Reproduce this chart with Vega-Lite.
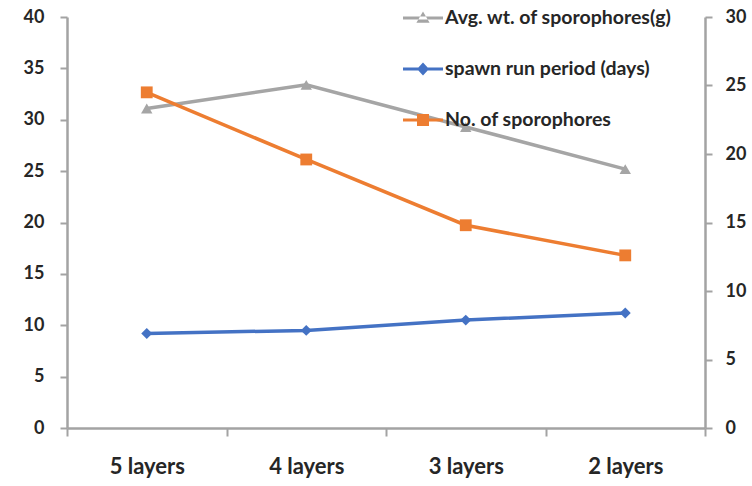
{
  "$schema": "https://vega.github.io/schema/vega-lite/v6.json",
  "width": 638,
  "height": 411,
  "autosize": {"type": "none"},
  "padding": {"left": 67, "top": 17, "right": 47, "bottom": 58},
  "background": "white",
  "config": {
    "view": {"stroke": null},
    "font": "Lato",
    "axis": {
      "grid": false,
      "domainColor": "#A3A3A3",
      "domainWidth": 2.5,
      "tickColor": "#A3A3A3",
      "tickWidth": 2,
      "labelFont": "Lato",
      "labelFontWeight": "bold",
      "labelColor": "#262626",
      "title": null
    }
  },
  "data": {
    "values": [
      {"layers": "5 layers", "series": "Avg. wt. of sporophores(g)", "value": 31.1, "axis": "left"},
      {"layers": "4 layers", "series": "Avg. wt. of sporophores(g)", "value": 33.4, "axis": "left"},
      {"layers": "3 layers", "series": "Avg. wt. of sporophores(g)", "value": 29.3, "axis": "left"},
      {"layers": "2 layers", "series": "Avg. wt. of sporophores(g)", "value": 25.2, "axis": "left"},
      {"layers": "5 layers", "series": "spawn  run period (days)", "value": 9.2, "axis": "left"},
      {"layers": "4 layers", "series": "spawn  run period (days)", "value": 9.5, "axis": "left"},
      {"layers": "3 layers", "series": "spawn  run period (days)", "value": 10.5, "axis": "left"},
      {"layers": "2 layers", "series": "spawn  run period (days)", "value": 11.2, "axis": "left"},
      {"layers": "5 layers", "series": "No. of sporophores", "value": 24.5, "axis": "right"},
      {"layers": "4 layers", "series": "No. of sporophores", "value": 19.6, "axis": "right"},
      {"layers": "3 layers", "series": "No. of sporophores", "value": 14.8, "axis": "right"},
      {"layers": "2 layers", "series": "No. of sporophores", "value": 12.6, "axis": "right"}
    ]
  },
  "encoding": {
    "x": {
      "field": "layers",
      "type": "nominal",
      "sort": ["5 layers", "4 layers", "3 layers", "2 layers"],
      "scale": {"type": "band", "paddingInner": 0, "paddingOuter": 0},
      "axis": {
        "labelAngle": 0,
        "tickBand": "extent",
        "tickSize": 8,
        "labelFontSize": 22,
        "labelPadding": 20
      }
    },
    "color": {
      "field": "series",
      "type": "nominal",
      "scale": {
        "domain": ["Avg. wt. of sporophores(g)", "spawn  run period (days)", "No. of sporophores"],
        "range": ["#A5A5A5", "#4472C4", "#ED7D31"]
      },
      "legend": {
        "orient": "none",
        "legendX": 336,
        "legendY": -19,
        "title": null,
        "direction": "vertical",
        "padding": 0,
        "symbolSize": 1600,
        "symbolStrokeWidth": 0,
        "rowPadding": 21,
        "labelOffset": 2,
        "labelFont": "Lato",
        "labelFontSize": 19.5,
        "labelFontWeight": "bold",
        "labelColor": "#262626",
        "labelLimit": 400,
        "encode": {
          "symbols": {
            "update": {
              "shape": {"signal": "datum.value === 'Avg. wt. of sporophores(g)' ? 'M-1,-0.08L1,-0.08L1,0.08L-1,0.08Z M-0.33,0.24L0.33,0.24L0,-0.33Z' : datum.value === 'No. of sporophores' ? 'M-1,-0.08L1,-0.08L1,0.08L-1,0.08Z M-0.3,-0.3L0.3,-0.3L0.3,0.3L-0.3,0.3Z' : 'M-1,-0.08L1,-0.08L1,0.08L-1,0.08Z M0,-0.32L0.3,0L0,0.32L-0.3,0Z'"},
              "fill": {"signal": "scale('color', datum.value)"},
              "stroke": {"value": "transparent"},
              "strokeWidth": {"value": 0},
              "opacity": {"value": 1}
            }
          }
        }
      }
    }
  },
  "layer": [
    {
      "transform": [{"filter": "datum.axis === 'left'"}],
      "encoding": {
        "y": {
          "field": "value",
          "type": "quantitative",
          "scale": {"domain": [0, 40], "nice": false},
          "axis": {
            "orient": "left",
            "values": [0, 5, 10, 15, 20, 25, 30, 35, 40],
            "tickSize": 7,
            "labelPadding": 16,
            "labelFontSize": 18
          }
        }
      },
      "layer": [
        {"mark": {"type": "line", "strokeWidth": 3.5}},
        {
          "transform": [{"filter": "datum.series === 'Avg. wt. of sporophores(g)'"}],
          "mark": {"type": "point", "shape": "triangle-up", "filled": true, "opacity": 1, "size": 130}
        },
        {
          "transform": [{"filter": "datum.series === 'spawn  run period (days)'"}],
          "mark": {"type": "point", "shape": "diamond", "filled": true, "opacity": 1, "size": 120}
        }
      ]
    },
    {
      "transform": [{"filter": "datum.axis === 'right'"}],
      "encoding": {
        "y": {
          "field": "value",
          "type": "quantitative",
          "scale": {"domain": [0, 30], "nice": false},
          "axis": {
            "orient": "right",
            "values": [0, 5, 10, 15, 20, 25, 30],
            "tickSize": 7,
            "labelPadding": 13,
            "labelFontSize": 18
          }
        }
      },
      "layer": [
        {"mark": {"type": "line", "strokeWidth": 3.5}},
        {"mark": {"type": "point", "shape": "square", "filled": true, "opacity": 1, "size": 140}}
      ]
    }
  ],
  "resolve": {"scale": {"y": "independent"}}
}
